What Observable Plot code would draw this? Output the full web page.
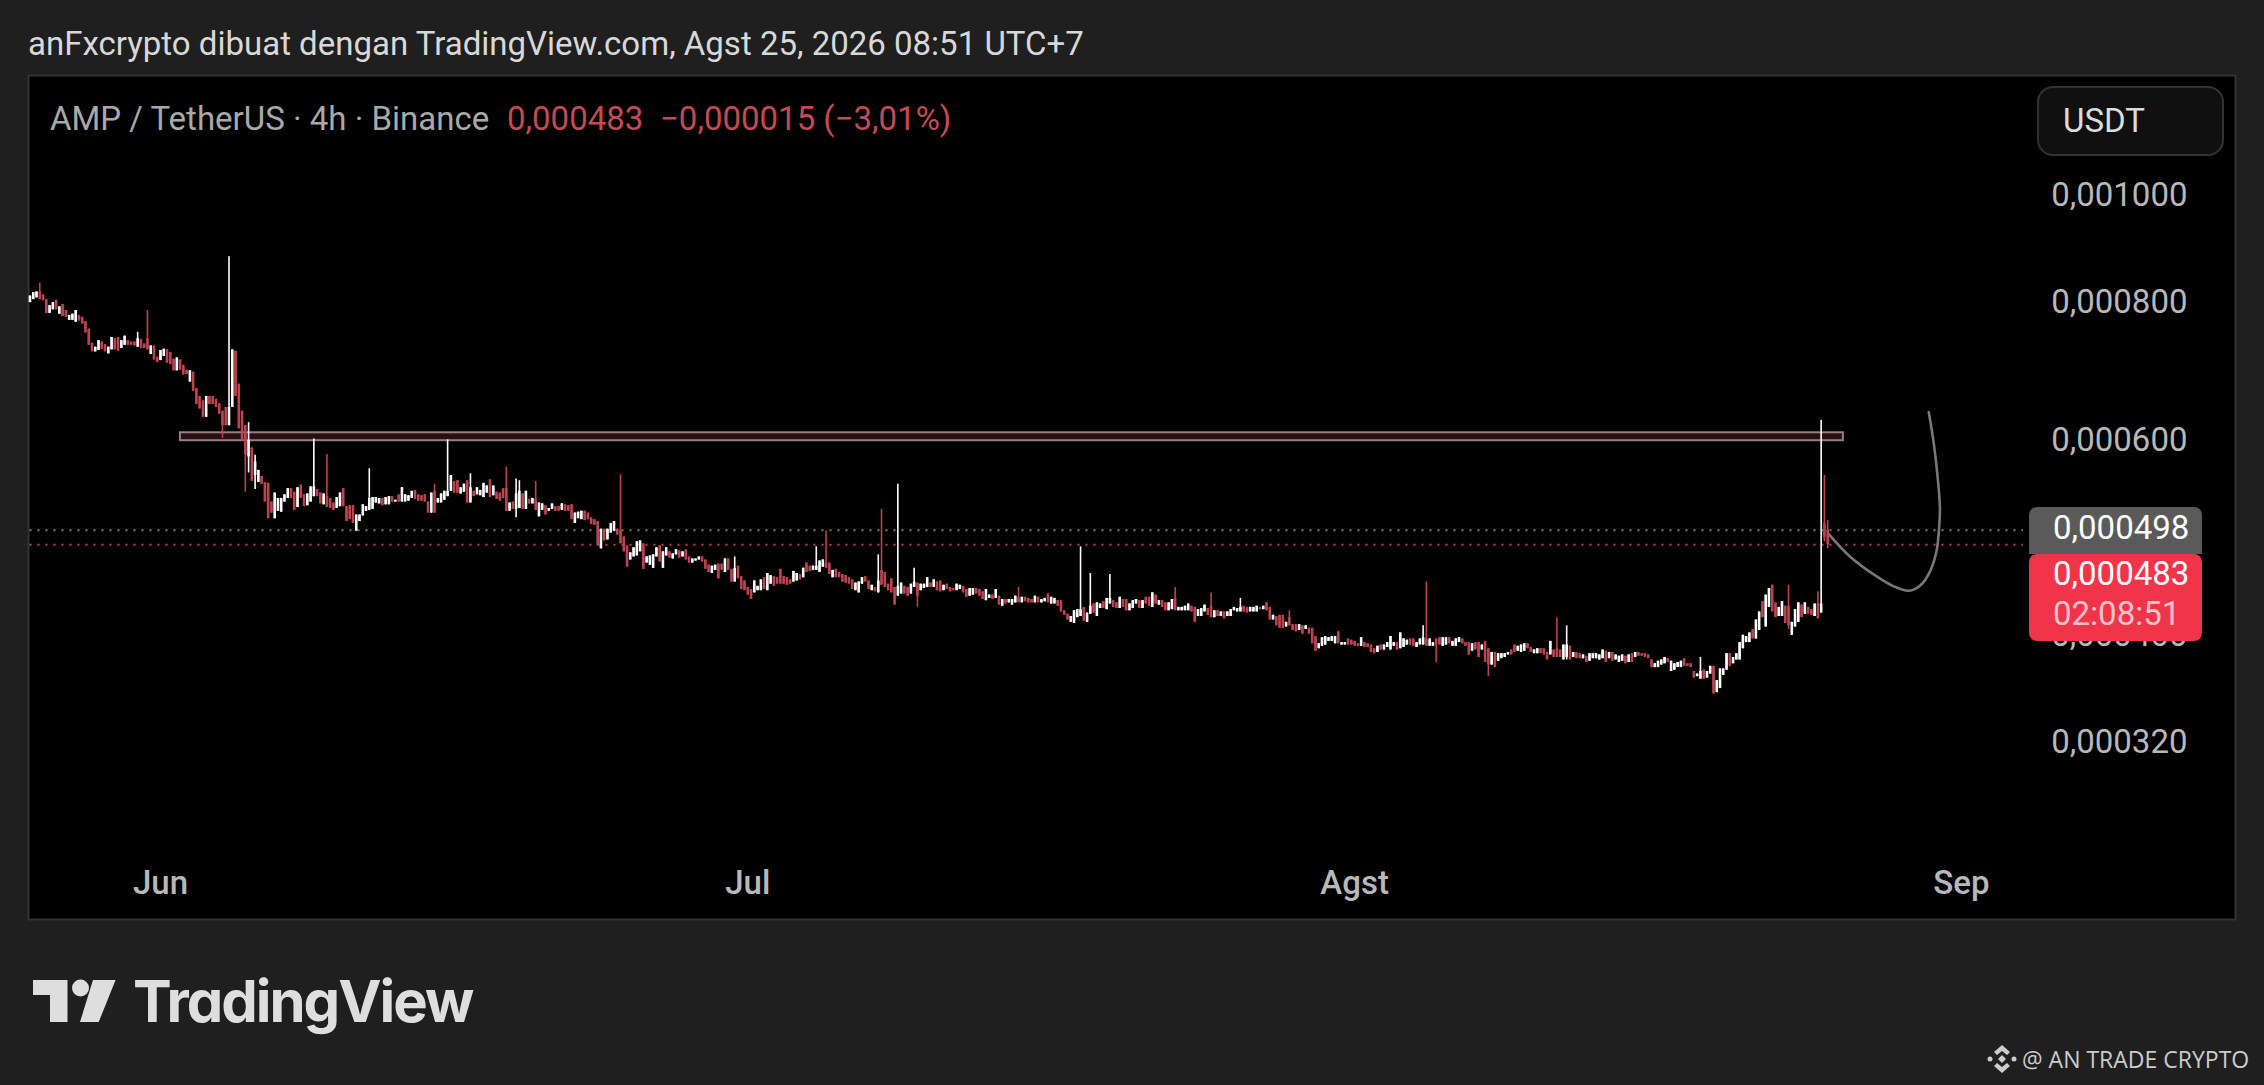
<!DOCTYPE html>
<html><head><meta charset="utf-8">
<script src="https://cdn.jsdelivr.net/npm/d3@7"></script>
<script src="https://cdn.jsdelivr.net/npm/@observablehq/plot@0.6"></script>
<style>
html,body{margin:0;padding:0;background:#1f1f1f;width:2264px;height:1085px;overflow:hidden;font-family:Roboto,sans-serif}
#chart{position:absolute;left:0;top:0}
.t{position:absolute;white-space:pre;line-height:1}
.box{position:absolute;box-sizing:border-box}
</style></head><body>
<div id="chart"></div>
<script>
// 4h candles, values in millionths of USDT, oldest first
const highs=[
811,817,818,833,813,805,795,800,804,793,797,787,779,781,787,779,776,769,757,735,
729,739,737,733,729,744,742,744,739,746,739,737,737,752,741,734,787,731,731,714,
724,726,725,721,711,713,710,702,695,694,692,669,658,652,658,658,658,654,648,638,
643,880,725,723,675,638,619,623,591,582,564,557,550,549,528,538,532,532,536,543,
543,539,544,547,536,537,545,602,542,538,537,583,532,527,533,538,543,523,524,524,
514,514,525,523,566,533,533,532,532,533,534,534,530,536,544,536,535,540,541,536,
535,536,528,538,548,532,537,540,601,558,551,552,544,548,552,560,540,544,
541,549,546,553,546,539,538,543,568,527,528,554,552,537,540,531,532,551,527,526,
524,521,526,523,523,526,525,524,525,516,517,518,518,516,511,509,507,499,499,499,
505,507,499,559,491,482,475,480,486,487,484,471,472,473,480,482,476,480,476,474,
478,477,476,478,471,469,469,471,471,468,463,462,463,464,464,469,469,459,471,462,
452,448,442,440,448,443,449,451,455,453,452,451,459,452,451,449,457,455,454,460,
465,462,462,481,467,468,497,465,458,459,456,454,453,451,449,446,447,451,452,448,
444,442,473,520,456,445,450,442,548,446,443,442,445,460,446,445,445,451,
446,449,447,448,444,445,442,441,445,444,443,440,441,441,441,440,438,440,435,435,
440,434,431,431,431,431,434,442,433,433,432,431,434,433,431,432,436,433,432,430,
430,421,418,416,421,422,481,424,419,455,427,428,427,429,432,454,430,428,433,431,
431,427,430,431,430,430,433,433,437,435,430,430,428,428,431,442,424,424,425,427,
425,424,422,423,426,423,437,421,421,420,420,420,422,424,423,432,425,424,424,424,
425,424,425,428,424,417,416,417,417,411,421,409,409,409,408,408,406,406,399,393,
398,399,398,399,399,403,394,394,397,396,395,393,398,394,393,392,389,391,
392,392,394,399,394,394,402,397,396,397,397,394,397,408,447,397,394,397,398,398,
398,398,395,397,398,397,394,394,393,394,394,392,395,389,386,386,385,385,385,386,
388,392,391,392,393,393,390,388,389,389,389,386,395,388,415,388,392,408,391,386,
386,385,384,383,385,385,385,384,388,387,386,386,384,383,384,383,384,385,386,386,
385,385,384,380,377,379,380,382,381,379,377,378,379,381,377,377,371,369,382,372,
371,375,375,364,373,373,385,385,382,385,394,400,399,402,405,413,420,429,435,441,
444,428,424,429,425,444,411,422,428,426,428,424,422,427,438,626,558,508];
const lows=[
800,805,808,805,803,782,782,788,788,781,777,776,771,771,768,770,765,751,732,722,
722,724,726,722,719,725,725,723,727,732,732,732,731,729,727,727,725,718,710,706,
709,715,705,703,694,694,695,688,689,678,665,647,641,630,630,647,647,643,634,603,
619,619,643,658,615,600,539,561,551,542,550,548,528,510,516,510,518,517,528,532,
532,519,522,532,523,524,528,534,534,526,525,522,521,519,521,523,523,507,509,505,
497,507,513,518,519,520,527,526,524,525,525,528,528,528,528,528,529,532,531,529,
529,528,516,516,516,527,527,530,534,540,538,538,537,539,527,527,534,536,
535,533,538,533,535,531,529,532,518,518,520,511,521,520,520,526,526,519,512,519,
514,518,520,518,518,519,518,518,509,505,510,509,508,509,504,503,482,479,487,488,
495,497,493,484,476,461,468,471,472,476,459,465,463,460,471,466,460,472,470,469,
473,470,471,468,465,465,467,468,466,459,456,455,458,450,458,456,458,447,447,450,
440,439,435,431,437,439,439,440,439,445,443,445,445,445,444,445,447,448,449,451,
456,457,458,458,456,461,460,454,451,451,451,447,446,445,440,439,437,445,447,440,
439,438,437,444,442,439,437,426,434,436,436,434,436,442,424,439,441,442,
442,442,439,438,439,440,438,439,439,440,437,433,434,435,436,434,431,430,432,431,
432,426,425,427,428,426,428,428,428,429,428,428,428,428,428,429,428,427,427,425,
420,417,413,411,410,415,416,412,411,418,419,416,423,423,422,427,424,423,423,424,
421,421,423,427,423,423,427,425,424,427,426,424,421,421,422,421,421,421,421,421,
420,411,416,416,420,417,415,415,416,416,414,416,416,421,420,420,420,419,420,420,
420,422,422,421,413,413,408,406,406,407,408,404,403,404,401,405,401,393,387,389,
391,392,395,395,393,393,392,392,392,392,391,391,391,390,390,386,385,386,
388,388,390,388,391,388,389,390,392,392,391,390,392,392,391,391,391,378,392,391,
392,393,391,391,394,393,391,384,387,388,382,388,378,367,376,374,379,381,382,384,
384,386,387,386,387,389,386,385,385,385,384,380,384,382,382,382,380,380,380,382,
381,381,381,378,379,381,381,380,381,378,381,379,380,378,379,377,378,378,382,383,
383,382,381,374,374,374,376,377,378,371,372,374,374,375,375,374,366,367,366,365,
366,369,354,355,358,368,372,375,377,380,380,389,394,394,397,397,404,415,407,424,
420,415,416,416,410,405,400,407,411,415,418,418,417,416,414,419,486,479];
const sides=[
"WWWRRRWWRW","RRWWWRRRRR","WWRRWWRRWW","RRRWRRRWRR","WWRRRWRRRW","RRRRWRRRRR","RWWRRRRWRW","WRRRRWWWWW",
"RRWRRWWWRR","WRRRWWRRRR","WWWWWWWWRW","WRWRWWWWRR","RRRWRWWWWW","RRWWRWRW",
"WWWRWRRRRW","RWWRWRWRWW","RWWRRWRRRW","WWRRRRRWRW","WWRRRRWWWW","RWWWWRWWRW","WRWRRWWWRR","RWWRRWRRWR",
"RRRRWWWRWW","RRRRRRWWRW","RRWWWWRRWR","RRRRRWWWRR","WRWRRRRRWW","RRWWRWWW",
"RWRRWRRRWW","RRWWRRRWWR","WRWRWWWRWR","RRWRWWRWWR","RRRWWWWRWW","RWWRWWRRWR","RWWWRWRRWR","WRRWWRWWWW",
"RRWWWRRWRW","RWWWWWRRWW","WRWRRWRRRW","RRRWRWRRRW","WWWWWRWWRR","RRWRRRRW",
"RWWWWRWWWR","RWWWRWWRRW","WRWWWRRRWR","RWRRWRWWWW","RRWWWRRWWR","RRWRRRWWRW","RRWRWWWWWR","WRWWWRWRWR",
"RRRRWWWWRW","WWWRRRRWWR","WWRWWWWRWW","WWWWRWWRWW","RRWWRRWWWR","WRRWRWRR"].join("");
// candles whose body is clearly shorter than the wick: index, body top, body bottom
const wickIndex=[3,33,36,59,61,66,67,69,87,91,104,124,128,135,146,149,150,155,181,216,241,244,260,261,266,271,272,
303,322,325,331,351,362,371,386,427,428,431,447,468,471,512,539,548,549,550,551];
const wickBodyTop=[818,742,742,638,643,619,600,574,545,534,532,540,540,544,543,537,540,531,498,460,462,465,448,458,443,447,446,
433,422,425,432,432,425,424,415,398,397,397,389,389,392,371,425,427,427,505,498];
const wickBodyBottom=[805,729,725,619,619,582,580,558,534,522,519,516,534,527,518,520,521,519,484,447,458,460,437,444,434,442,434,
428,416,418,427,421,415,420,408,392,391,392,376,382,382,365,408,414,419,490,483];

const lastPrice=483, prevHighlight=498;
const resistanceLow=600, resistanceHigh=610;
const priceTicks=[1000,800,600,400,320];
const monthDates=["2026-06-01","2026-07-01","2026-08-01","2026-09-01"];
const monthLabels=["Jun","Jul","Agst","Sep"];
// hand-drawn curve: days after 1 June, price
const curveDays=[85.22,86.33,87.69,88.54,89.31,89.91,90.42,90.73,90.85,90.9,90.8,90.59,90.33];
const curvePrices=[494,471,452,443,439,444,458,477,498,522,552,596,637];

const H4=4*3600e3, DAY=864e5;
const t0=Date.UTC(2026,4,25,8);
const jun1=Date.UTC(2026,5,1);
const bodyMap=new Map(wickIndex.map((k,j)=>[k,[wickBodyTop[j],wickBodyBottom[j]]]));
const candles=highs.map((h,i)=>{
  const b=bodyMap.get(i)||[h,lows[i]];
  return {t:new Date(t0+i*H4),high:h,low:lows[i],top:b[0],bottom:b[1],up:sides[i]==="W"};
});
const up=candles.filter(d=>d.up), down=candles.filter(d=>!d.up);
const curve=curveDays.map((d,i)=>({t:new Date(jun1+d*DAY),p:curvePrices[i]}));
const fmt=v=>(v/1e6).toFixed(6).replace(".",",");
const RED="#bc444f", WHITE="#ffffff";
const levelEnd=new Date(jun1+95.17*DAY);
const rectA=new Date(jun1+1.02*DAY), rectB=new Date(jun1+85.97*DAY);

const plot=Plot.plot({
  width:2264,height:1085,
  marginTop:75,marginBottom:166,marginLeft:28,marginRight:29,
  style:{background:"transparent",fontFamily:"Roboto, sans-serif",fontSize:"33px"},
  x:{type:"time",domain:[new Date(jun1-6.743*DAY),new Date(jun1+106.0*DAY)],axis:null},
  y:{type:"log",domain:[221.3,1284],axis:null},
  marks:[
    Plot.frame({fill:"#000000",stroke:"#333333",strokeWidth:2}),
    Plot.axisY({anchor:"right",ticks:priceTicks,tickFormat:fmt,tickSize:0,tickPadding:0,textAnchor:"end",dx:-48,fill:"#b8b8b8",fontSize:33,label:null}),
    Plot.axisX({anchor:"bottom",ticks:monthDates.map(d=>new Date(d+"T00:00:00Z")),tickFormat:d=>monthLabels[d.getUTCMonth()-5],tickSize:0,tickPadding:0,dy:-49,fill:"#b8b8b8",fontSize:33,fontWeight:500,label:null}),
    Plot.ruleY([prevHighlight],{x1:candles[0].t,x2:levelEnd,stroke:"#7d7d7d",strokeWidth:2,strokeDasharray:"2 6"}),
    Plot.ruleY([lastPrice],{x1:candles[0].t,x2:levelEnd,stroke:"#bc444f",strokeWidth:2,strokeDasharray:"2 6"}),
    Plot.rect([0],{x1:rectA,x2:rectB,y1:resistanceLow,y2:resistanceHigh,fill:"#2c0e12",stroke:"#8f8383",strokeWidth:2}),
    Plot.ruleX(down,{x:"t",y1:"low",y2:"high",stroke:RED,strokeWidth:1.6}),
    Plot.ruleX(down,{x:"t",y1:"bottom",y2:"top",stroke:RED,strokeWidth:2.6}),
    Plot.ruleX(up,{x:"t",y1:"low",y2:"high",stroke:WHITE,strokeWidth:1.6}),
    Plot.ruleX(up,{x:"t",y1:"bottom",y2:"top",stroke:WHITE,strokeWidth:2.6}),
    Plot.line(curve,{x:"t",y:"p",stroke:"#787878",strokeWidth:2.6,curve:"catmull-rom"})
  ]
});
document.getElementById("chart").appendChild(plot);

function text(s,x,cy,size,color,extra={}){
  const e=document.createElement("div");e.className="t";e.textContent=s;
  Object.assign(e.style,{left:x+"px",top:(cy-size/2)+"px",fontSize:size+"px",color},extra);
  document.body.appendChild(e);return e;
}
function box(x,y,w,h,bg,radius,border){
  const e=document.createElement("div");e.className="box";
  Object.assign(e.style,{left:x+"px",top:y+"px",width:w+"px",height:h+"px",background:bg,borderRadius:radius,border:border||"none"});
  document.body.appendChild(e);return e;
}
text("anFxcrypto dibuat dengan TradingView.com, Agst 25, 2026 08:51 UTC+7",28,43,33,"#d8d8d8");
text("AMP / TetherUS · 4h · Binance",50,118,33,"#a9a9a9");
text("0,000483",507,118,33,"#c44a54");
text("\u22120,000015 (\u22123,01%)",660,118,33,"#c44a54");
box(2037,86,187,70,"#101010","16px","2px solid #333333");
text("USDT",2063,120,33,"#dcdcdc");
box(2029,507,173,47,"#5a5a5a","8px 8px 0 0");
text("0,000498",2053,527,33,"#ffffff");
box(2029,554,173,87,"#f0344a","8px");
text("0,000483",2053,573,33,"#ffffff");
text("02:08:51",2053,613,33,"#fbc4ca");
text("TradingView",133,1001,58,"#dedede",{fontFamily:"Inter, sans-serif",fontWeight:"700",letterSpacing:"-2px",fontFeatureSettings:"'cv11' 1"});
text("@ AN TRADE CRYPTO",2022,1059,23,"#cccccc",{fontFamily:"'Open Sans', sans-serif"});
const ns="http://www.w3.org/2000/svg";
const deco=document.createElementNS(ns,"svg");
deco.setAttribute("width","2264");deco.setAttribute("height","1085");
deco.style.cssText="position:absolute;left:0;top:0;pointer-events:none";
deco.innerHTML=`<path fill="#dedede" d="M33 980H67.5V1022H50V995H33Z"/><circle cx="80.5" cy="988" r="8.5" fill="#dedede"/><path fill="#dedede" d="M93 980H115.6L98.7 1022H80Z"/>
<g fill="#cccccc"><path d="M2002 1045l8 7-3 3-5-4-5 4-3-3z"/><path d="M2002 1073l-8-7 3-3 5 4 5-4 3 3z"/><path d="M2002 1055l4 4-4 4-4-4z"/><circle cx="1990" cy="1059" r="2.5"/><circle cx="2014" cy="1059" r="2.5"/></g>`;
document.body.appendChild(deco);
</script></body></html>
